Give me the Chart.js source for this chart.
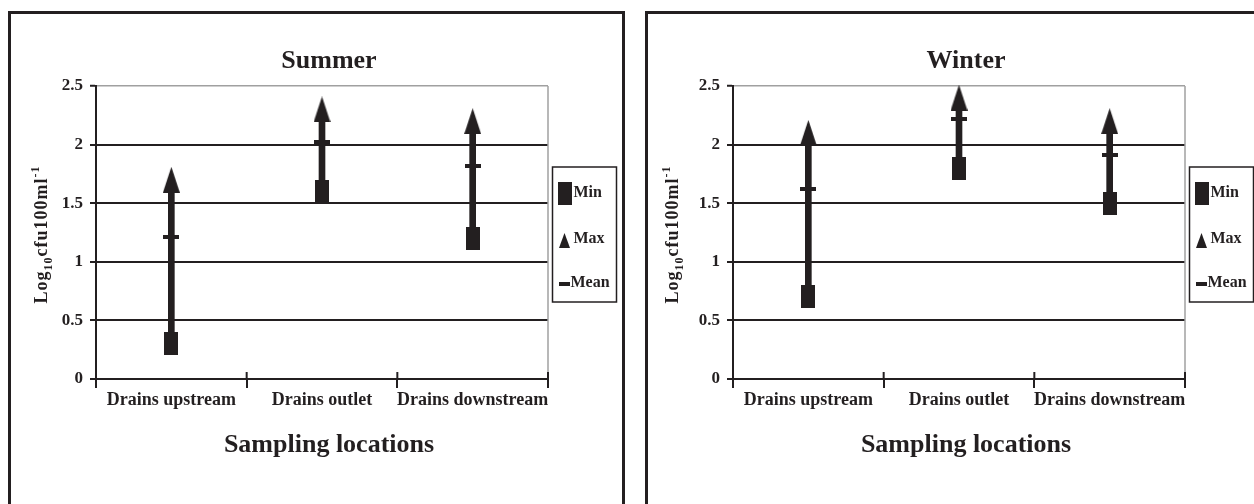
<!DOCTYPE html>
<html lang="en">
<head>
<meta charset="UTF-8">
<title>Summer / Winter sampling</title>
<script src="https://cdn.jsdelivr.net/npm/chart.js"></script>
<style>
    body { margin: 0; background: #fff; overflow: hidden; width: 1254px; height: 504px; }
    .panel {
        position: absolute;
        top: 11px;
        width: 611px;
        height: 500px;
        border: 3px solid #231f20;
        border-bottom: none;
    }
    #summerPanel { left: 8px; }
    #winterPanel { left: 645px; }
    canvas { display: block; }
</style>
</head>
<body>
<div class="panel" id="summerPanel"><canvas id="summer" width="611" height="490"></canvas></div>
<div class="panel" id="winterPanel"><canvas id="winter" width="611" height="490"></canvas></div>
<script>
const locations = ['Drains upstream', 'Drains outlet', 'Drains downstream'];
const yTicks = ['0', '0.5', '1', '1.5', '2', '2.5'];
const legendLabels = ['Min', 'Max', 'Mean'];

const summerMin = [0.3, 1.6, 1.2];
const summerMax = [1.7, 2.3, 2.2];
const summerMean = [1.21, 2.02, 1.82];

const winterMin = [0.7, 1.8, 1.5];
const winterMax = [2.1, 2.4, 2.2];
const winterMean = [1.62, 2.22, 1.91];

const ink = '#231f20';
const serif = "'Liberation Serif', 'Times New Roman', serif";

// little canvases used as point styles
function marker(w, h, draw) {
    const c = document.createElement('canvas');
    c.width = w; c.height = h;
    const g = c.getContext('2d');
    g.fillStyle = ink;
    draw(g, w, h);
    return c;
}
const box = (g, w, h) => g.fillRect(0, 0, w, h);
const tri = (g, w, h) => { g.beginPath(); g.moveTo(w / 2, 0); g.lineTo(w, h); g.lineTo(0, h); g.closePath(); g.fill(); };

const rectMark = marker(14, 23, box);
const triMark = marker(17, 26, tri);
const dashMark = marker(16, 4, box);
const triSmall = marker(11, 15, tri);
const dashSmall = marker(11, 4, box);

const decor = {
    id: 'decor',
    beforeDatasetsDraw(chart) {
        const { ctx, chartArea: a, scales: { x } } = chart;
        ctx.save();
        // grey frame on the right of the plot
        ctx.strokeStyle = '#a0a0a0';
        ctx.lineWidth = 1.5;
        ctx.beginPath();
        ctx.moveTo(a.right, a.top);
        ctx.lineTo(a.right, a.bottom);
        ctx.stroke();
        // category ticks cross the axis
        const step = x.getPixelForValue(1) - x.getPixelForValue(0);
        ctx.strokeStyle = ink;
        ctx.lineWidth = 2;
        for (let i = 0; i <= locations.length; i++) {
            const px = x.getPixelForValue(0) + (i - 0.5) * step;
            ctx.beginPath();
            ctx.moveTo(px, a.bottom);
            ctx.lineTo(px, a.bottom - 7);
            ctx.stroke();
        }
        ctx.restore();
    },
    afterDraw(chart, args, opts) {
        const { ctx, chartArea: a } = chart;
        const cx = (a.left + a.right) / 2 + 7;
        ctx.save();
        ctx.fillStyle = ink;
        ctx.textAlign = 'center';
        ctx.textBaseline = 'alphabetic';
        ctx.font = 'bold 26px ' + serif;
        ctx.fillText(opts.title, cx, 54);
        ctx.fillText('Sampling locations', cx, 438);

        // y axis title with sub / superscript
        const parts = [
            { t: 'Log', size: 18, dy: 0 },
            { t: '10', size: 12, dy: 5 },
            { t: 'cfu100ml', size: 18, dy: 0 },
            { t: '-1', size: 12, dy: -8 }
        ];
        ctx.letterSpacing = '1px';
        let total = 0;
        parts.forEach(p => { ctx.font = 'bold ' + p.size + 'px ' + serif; p.w = ctx.measureText(p.t).width; total += p.w; });
        ctx.translate(opts.yTitleX, (a.top + a.bottom) / 2 + 2);
        ctx.rotate(-Math.PI / 2);
        ctx.textAlign = 'left';
        let px = -total / 2;
        parts.forEach(p => {
            ctx.font = 'bold ' + p.size + 'px ' + serif;
            ctx.fillText(p.t, px, p.dy);
            px += p.w;
        });
        ctx.restore();

        // legend box
        const L = 541.5, T = 153;
        ctx.save();
        ctx.letterSpacing = '0px';
        ctx.strokeStyle = ink;
        ctx.lineWidth = 1.5;
        ctx.strokeRect(L, T, 64, 135);
        ctx.drawImage(rectMark, L + 5, T + 15);
        ctx.drawImage(triSmall, L + 6.5, T + 66);
        ctx.drawImage(dashSmall, L + 6, T + 115);
        ctx.fillStyle = ink;
        ctx.font = 'bold 16px ' + serif;
        ctx.textAlign = 'left';
        ctx.fillText(legendLabels[0], L + 21, T + 30);
        ctx.fillText(legendLabels[1], L + 21, T + 76);
        ctx.fillText(legendLabels[2], L + 18, T + 120);
        ctx.restore();
    }
};

function makeChart(id, title, mins, maxs, means, yTitleX) {
    const point = (label, values, style, order) => ({
        type: 'line', label: label, data: values, showLine: false,
        pointStyle: style, pointRadius: 6, pointHoverRadius: 6, order: order, clip: false
    });
    return new Chart(document.getElementById(id), {
        type: 'bar',
        data: {
            labels: locations,
            datasets: [
                point(legendLabels[0], mins, rectMark, 1),
                point(legendLabels[1], maxs, triMark, 2),
                point(legendLabels[2], means, dashMark, 3),
                {
                    type: 'bar', label: 'Range',
                    data: mins.map((m, i) => [m, maxs[i]]),
                    backgroundColor: ink, borderWidth: 0, barThickness: 6, order: 4
                }
            ]
        },
        options: {
            responsive: false,
            animation: false,
            events: [],
            layout: { padding: { left: 40, right: 74, top: 72, bottom: 65 } },
            plugins: {
                legend: { display: false },
                title: { display: false },
                tooltip: { enabled: false },
                decor: { title: title, yTitleX: yTitleX }
            },
            scales: {
                x: {
                    offset: true,
                    grid: { offset: true, drawOnChartArea: false, color: ink, lineWidth: 2, tickLength: 9 },
                    border: { color: ink, width: 2 },
                    ticks: { color: ink, font: { family: serif, size: 18, weight: 'bold' }, padding: 2, maxRotation: 0, autoSkip: false },
                    afterFit(s) { s.height = 60; }
                },
                y: {
                    min: 0, max: 2.5,
                    ticks: {
                        stepSize: 0.5, color: ink, padding: 7,
                        font: { family: serif, size: 17, weight: 'bold' },
                        callback: (v, i) => yTicks[i]
                    },
                    grid: {
                        color: c => (c.tick && c.tick.value === 2.5) ? '#a0a0a0' : ink,
                        lineWidth: c => (c.tick && c.tick.value === 2.5) ? 1.5 : 2,
                        tickLength: 6, tickColor: ink, tickWidth: 2
                    },
                    border: { color: ink, width: 2 },
                    afterFit(s) { s.width = 45; }
                }
            }
        },
        plugins: [decor]
    });
}

makeChart('summer', 'Summer', summerMin, summerMax, summerMean, 36);
makeChart('winter', 'Winter', winterMin, winterMax, winterMean, 30);
</script>
</body>
</html>
